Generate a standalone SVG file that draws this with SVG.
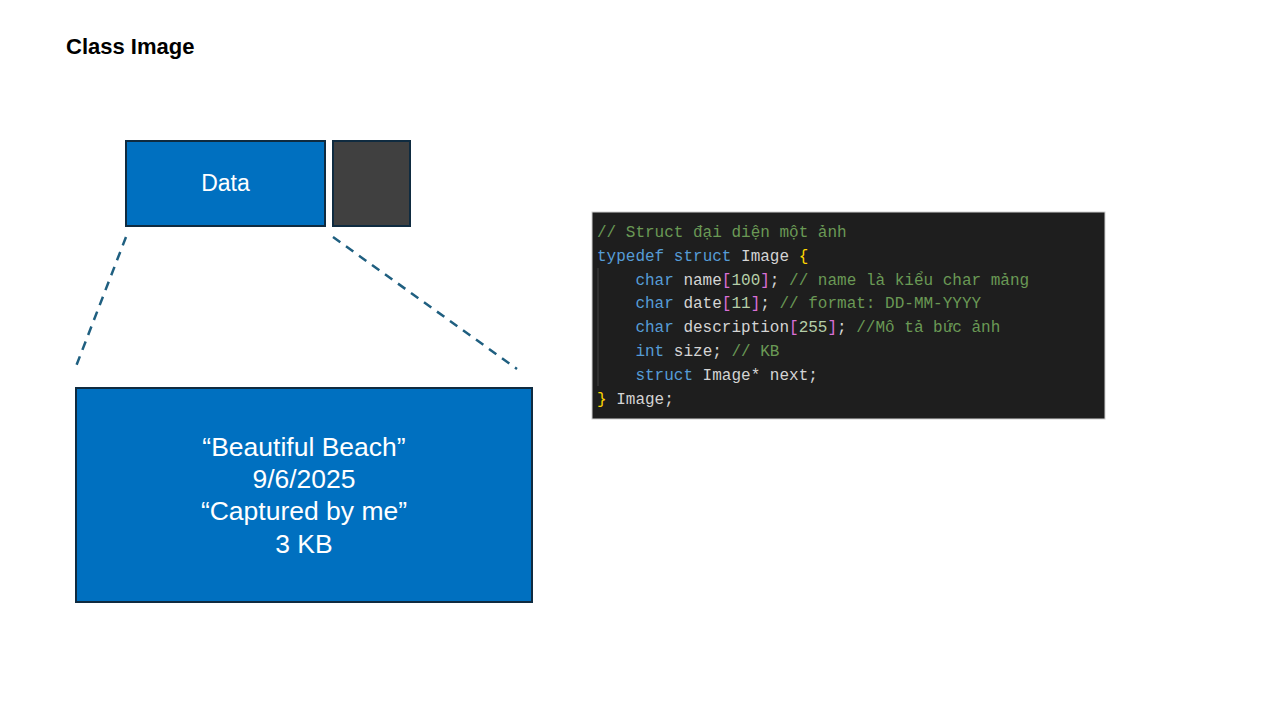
<svg xmlns="http://www.w3.org/2000/svg" width="1280" height="720" viewBox="0 0 1280 720">
<style>
.box{fill:#0070C0;stroke:#0F2B40;stroke-width:2}
.lbl{font-family:"Liberation Sans",Arial,sans-serif;fill:#fff;text-anchor:middle}
.code{font-family:"Liberation Mono","DejaVu Sans Mono",monospace;font-size:16px;fill:#D4D4D4;white-space:pre}
.c{fill:#6A9955}.k{fill:#569CD6}.b{fill:#DA70D6}.n{fill:#B5CEA8}.y{fill:#FFD700}
.dash{stroke:#1F5F80;stroke-width:2.5;stroke-dasharray:9 7;fill:none}
</style>
<rect width="1280" height="720" fill="#fff"/>
<text x="66" y="54" font-family="'Liberation Sans',Arial,sans-serif" font-size="22" font-weight="bold" fill="#000">Class Image</text>
<g id="connectors">
<line class="dash" x1="126" y1="237" x2="75" y2="369"/>
<line class="dash" x1="333" y1="237" x2="517" y2="369"/>
</g>
<g id="data">
<rect class="box" x="126" y="141" width="199" height="85"/>
<text class="lbl" x="225.5" y="191" font-size="23">Data</text>
</g>
<g id="next">
<rect x="333" y="141" width="77" height="85" fill="#404040" stroke="#0F2B40" stroke-width="2"/>
</g>
<g id="detail">
<rect class="box" x="76" y="388" width="456" height="214"/>
<text class="lbl" x="304" y="456" font-size="26.5">“Beautiful Beach”</text>
<text class="lbl" x="304" y="488" font-size="26.5">9/6/2025</text>
<text class="lbl" x="304" y="520" font-size="26.5">“Captured by me”</text>
<text class="lbl" x="304" y="553" font-size="26.5">3 KB</text>
</g>
<g id="code">
<rect x="592" y="212" width="513" height="207" fill="#1E1E1E" stroke="#D0D0D0" stroke-width="1"/>
<line x1="598" y1="268" x2="598" y2="386" stroke="#404040" stroke-width="1"/>
<text class="code" x="597" y="237"><tspan class="c">// Struct đại diện một ảnh</tspan></text>
<text class="code" x="597" y="261"><tspan class="k">typedef</tspan> <tspan class="k">struct</tspan> Image <tspan class="y">{</tspan></text>
<text class="code" x="597" y="285">    <tspan class="k">char</tspan> name<tspan class="b">[</tspan><tspan class="n">100</tspan><tspan class="b">]</tspan>; <tspan class="c">// name là kiểu char mảng</tspan></text>
<text class="code" x="597" y="308">    <tspan class="k">char</tspan> date<tspan class="b">[</tspan><tspan class="n">11</tspan><tspan class="b">]</tspan>; <tspan class="c">// format: DD-MM-YYYY</tspan></text>
<text class="code" x="597" y="332">    <tspan class="k">char</tspan> description<tspan class="b">[</tspan><tspan class="n">255</tspan><tspan class="b">]</tspan>; <tspan class="c">//Mô tả bức ảnh</tspan></text>
<text class="code" x="597" y="356">    <tspan class="k">int</tspan> size; <tspan class="c">// KB</tspan></text>
<text class="code" x="597" y="380">    <tspan class="k">struct</tspan> Image* next;</text>
<text class="code" x="597" y="404"><tspan class="y">}</tspan> Image;</text>
</g>
</svg>
